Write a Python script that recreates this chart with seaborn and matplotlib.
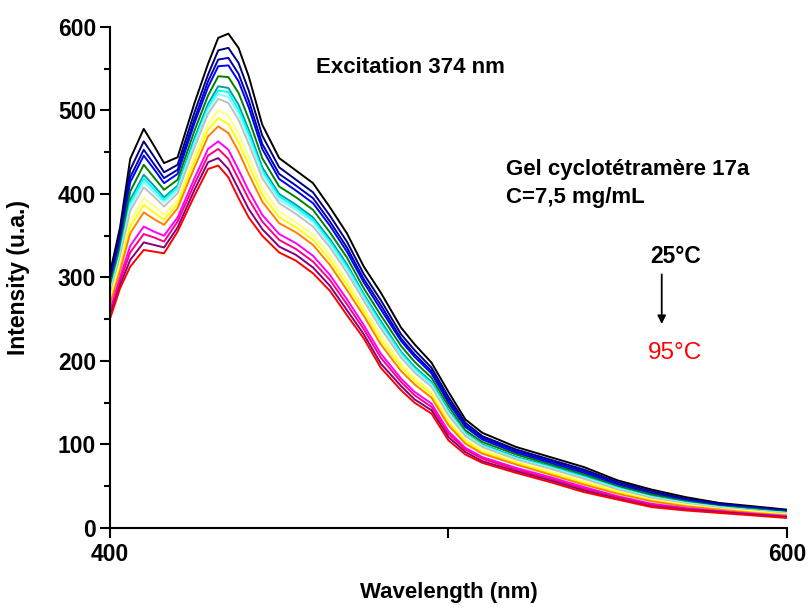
import numpy as np
import pandas as pd
import matplotlib
matplotlib.use("Agg")
import matplotlib.pyplot as plt
from matplotlib.ticker import MultipleLocator
import seaborn as sns

# wavelengths (nm)
wavelength = [400, 403, 406, 410, 413, 416, 420, 425, 429, 432, 435, 438, 441, 445, 450, 455, 460, 465,
              470, 475, 480, 486, 490, 495, 500, 505, 510, 520, 530, 540, 550, 560, 570, 580, 590, 600]

# one spectrum per temperature step, 25 °C (top) -> 95 °C (bottom)
black = [305, 360, 442, 478, 458, 437, 444, 509, 556, 587, 592, 575, 541, 483, 443, 428, 413, 384,
         353, 313, 282, 240, 220, 198, 163, 130, 114, 97, 85, 73, 57, 46, 37, 30, 26, 22]
navy = [300, 353, 429, 463, 445, 426, 435, 498, 543, 572, 575, 557, 524, 470, 432, 417, 402, 374,
        343, 304, 273, 232, 213, 192, 157, 126, 110, 94, 82, 70, 55, 44, 35, 29, 25, 21]
darkblue = [296, 347, 420, 453, 436, 419, 429, 490, 535, 561, 563, 544, 512, 460, 424, 410, 395, 367,
            336, 298, 267, 227, 208, 188, 153, 123, 108, 92, 80, 68, 53, 42, 34, 28, 24, 20]
blue = [293, 343, 414, 446, 430, 413, 424, 485, 528, 553, 554, 535, 504, 454, 418, 404, 389, 362,
        331, 294, 262, 224, 205, 185, 150, 121, 106, 90, 78, 66, 52, 41, 33, 27, 24, 20]
green = [289, 337, 403, 435, 420, 405, 417, 476, 518, 541, 540, 521, 490, 443, 409, 396, 381, 354,
         324, 287, 255, 218, 199, 180, 146, 117, 103, 88, 76, 64, 50, 40, 32, 26, 23, 19]
teal = [284, 331, 393, 423, 410, 396, 410, 467, 508, 529, 527, 507, 477, 432, 400, 387, 372, 346,
        316, 280, 248, 211, 193, 175, 141, 114, 100, 85, 74, 62, 48, 38, 31, 25, 22, 18]
cyan = [282, 328, 389, 419, 406, 393, 408, 463, 504, 524, 522, 501, 472, 428, 397, 384, 369, 343,
        313, 278, 245, 209, 191, 173, 139, 113, 99, 84, 73, 61, 48, 37, 30, 25, 21, 18]
lightcyan = [281, 326, 385, 414, 402, 390, 405, 460, 501, 520, 516, 496, 467, 425, 393, 381, 366, 340,
             310, 275, 242, 207, 189, 171, 138, 112, 98, 83, 72, 60, 47, 37, 30, 25, 21, 18]
silver = [279, 323, 380, 408, 397, 385, 401, 456, 496, 514, 509, 489, 460, 419, 389, 376, 361, 336,
          306, 272, 239, 204, 186, 169, 135, 110, 97, 82, 71, 59, 46, 36, 29, 24, 21, 17]
lightyellow = [274, 317, 368, 395, 386, 375, 393, 446, 484, 500, 494, 472, 445, 407, 379, 366, 351, 327,
               297, 264, 231, 197, 180, 163, 130, 106, 94, 79, 68, 56, 44, 34, 28, 23, 20, 16]
yellow = [270, 312, 361, 387, 378, 369, 388, 439, 477, 491, 484, 462, 435, 399, 372, 360, 345, 321,
          291, 259, 225, 193, 176, 160, 126, 104, 91, 78, 66, 54, 43, 33, 27, 22, 19, 16]
orange = [267, 308, 353, 378, 370, 363, 383, 432, 469, 481, 473, 451, 424, 391, 365, 354, 339, 315,
          285, 254, 220, 188, 172, 156, 123, 101, 89, 76, 64, 52, 41, 32, 26, 22, 18, 15]
magenta = [260, 300, 338, 361, 355, 350, 372, 419, 454, 463, 453, 429, 404, 375, 352, 341, 326, 303,
           274, 243, 209, 179, 163, 149, 116, 96, 85, 72, 61, 49, 38, 29, 24, 20, 17, 14]
deeppink = [257, 296, 330, 352, 348, 343, 367, 412, 446, 454, 442, 418, 394, 367, 345, 334, 319, 297,
            268, 238, 204, 175, 159, 145, 113, 94, 83, 70, 59, 47, 37, 28, 23, 20, 16, 13]
purple = [253, 291, 321, 342, 339, 336, 360, 405, 438, 443, 430, 406, 382, 358, 337, 327, 312, 290,
          261, 232, 197, 170, 154, 141, 109, 91, 80, 68, 57, 45, 35, 26, 22, 19, 16, 13]
red = [250, 287, 313, 333, 331, 329, 355, 398, 430, 434, 420, 395, 372, 350, 330, 320, 305, 284,
       255, 227, 192, 165, 150, 137, 105, 88, 78, 66, 55, 43, 34, 25, 21, 18, 15, 12]

spectra = [black, navy, darkblue, blue, green, teal, cyan, lightcyan, silver,
           lightyellow, yellow, orange, magenta, deeppink, purple, red]
colors = ["#000000", "#000080", "#0000b4", "#0000ff", "#008000", "#00a0a0", "#00ffff", "#80ffff",
          "#c0c0c0", "#ffff80", "#ffff00", "#ff8000", "#ff00ff", "#ff0080", "#800080", "#ff0000"]

frames = []
for i, s in enumerate(spectra):
    frames.append(pd.DataFrame({"wl": wavelength, "I": s, "curve": i}))
df = pd.concat(frames, ignore_index=True)

sns.set_style("ticks")
plt.rcParams["font.family"] = ["Liberation Sans", "DejaVu Sans"]
plt.rcParams["text.color"] = "black"
plt.rcParams["axes.labelcolor"] = "black"
plt.rcParams["xtick.color"] = "black"
plt.rcParams["ytick.color"] = "black"
plt.rcParams["axes.edgecolor"] = "black"

fig = plt.figure(figsize=(8.08, 6.08), dpi=100)
ax = fig.add_axes([0.136, 0.1316, 0.838, 0.824])

sns.lineplot(data=df, x="wl", y="I", hue="curve", palette=colors,
             legend=False, linewidth=1.4, sort=False, ax=ax)

ax.set_xlim(400, 600)
ax.set_ylim(0, 600)
ax.set_xticks([400, 500, 600])
ax.set_xticklabels(["400", "", "600"])
ax.yaxis.set_major_locator(MultipleLocator(100))
ax.yaxis.set_minor_locator(MultipleLocator(50))
ax.tick_params(axis="both", which="major", length=7, width=1.5, labelsize=16.5)
ax.tick_params(axis="y", which="major", pad=3)
ax.tick_params(axis="x", which="major", pad=4)
ax.tick_params(axis="y", which="minor", length=4, width=1.5)
for lab in ax.get_xticklabels() + ax.get_yticklabels():
    lab.set_fontweight("bold")

sns.despine(ax=ax)
for sp in ["left", "bottom"]:
    ax.spines[sp].set_linewidth(1.5)

ax.set_xlabel("Wavelength (nm)", fontsize=16, fontweight="bold", labelpad=11)
ax.set_ylabel("Intensity (u.a.)", fontsize=16.5, fontweight="bold", labelpad=20)

ax.text(461, 552, "Excitation 374 nm", fontsize=16, fontweight="bold", va="center")
ax.text(517, 429, "Gel cyclotétramère 17a", fontsize=16, fontweight="bold", va="center")
ax.text(517, 396, "C=7,5 mg/mL", fontsize=16, fontweight="bold", va="center")
ax.text(567, 325, "25°C", fontsize=16.5, fontweight="bold", ha="center", va="center")
ax.annotate("", xy=(563, 241), xytext=(563, 307),
            arrowprops=dict(arrowstyle="-|>", color="black", lw=1.3, mutation_scale=12))
ax.text(567, 210, "95°C", fontsize=17.5, color="#ff0000", ha="center", va="center")

fig.savefig("out.png", dpi=100)
